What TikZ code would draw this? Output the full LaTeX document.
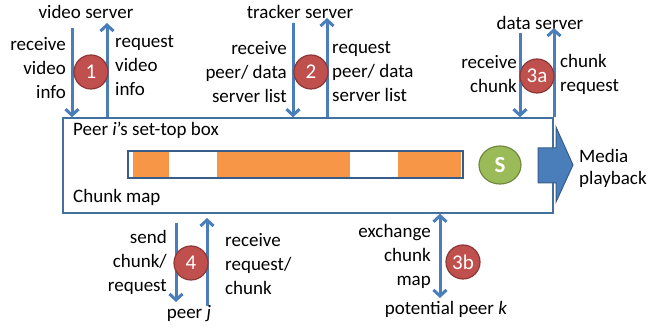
\documentclass[tikz,border=0pt]{standalone}
\usepackage{fontspec}
\setmainfont{Carlito}
\usetikzlibrary{arrows.meta,shapes.geometric}
\definecolor{ablue}{HTML}{4A7EBB}
\definecolor{boxblue}{HTML}{41719C}
\definecolor{barblue}{HTML}{385D8A}
\definecolor{cred}{HTML}{C0504D}
\definecolor{credd}{HTML}{8C3836}
\definecolor{cgreen}{HTML}{9BBB59}
\definecolor{cgreend}{HTML}{71893F}
\definecolor{corange}{HTML}{F79646}
\begin{document}
\begin{tikzpicture}[x=1pt,y=-1pt,
  lbl/.style={font=\fontsize{19}{24}\selectfont, inner sep=0pt},
  flow/.style={draw=ablue, line width=3pt, -{Straight Barb[length=6pt,width=13pt]}},
  flow2/.style={draw=ablue, line width=3pt, {Straight Barb[length=6pt,width=13pt]}-{Straight Barb[length=6pt,width=13pt]}},
  badge/.style={circle, fill=cred, draw=credd, line width=1.2pt, minimum size=34pt, inner sep=0pt, text=white, font=\fontsize{21}{21}\selectfont},
  seg/.style={fill=corange, draw=none},
]
\useasboundingbox (0,0) rectangle (649,328);

% main box
\node[draw=boxblue, line width=1.5pt, minimum width=490pt, minimum height=95pt, inner sep=0pt] (box) at (308,165.5) {};
\node[lbl, anchor=west] (ptitle) at (73,130) {Peer \textit{i}’s set-top box};
\node[lbl, anchor=west] (cmap) at (73,197) {Chunk map};

% chunk bar
\fill[seg] (133,152) rectangle (169,177);
\fill[seg] (217,152) rectangle (350,177);
\fill[seg] (398,152) rectangle (461,177);
\node[draw=barblue, line width=1.5pt, minimum width=335pt, minimum height=27pt, inner sep=0pt] (bar) at (295.5,164.5) {};

% S
\node[ellipse, fill=cgreen, draw=cgreend, line width=1.2pt, minimum width=42pt, minimum height=38pt, inner sep=0pt, text=white, font=\fontsize{23}{23}\selectfont\bfseries] (s) at (500,165) {S};

% media playback block arrow
\filldraw[fill=ablue, draw=barblue, line width=1pt] (538,148) -- (556,148) -- (556,127) -- (573,165) -- (556,202) -- (556,183) -- (538,183) -- cycle;
\node[font=\fontsize{19}{22}\selectfont, inner sep=0pt, align=left, anchor=west] (media) at (579,168) {Media\\playback};

% group 1
\node[lbl] (vs) at (86,12) {video server};
\coordinate (a1d) at (72,28);
\coordinate (a1u) at (107,23);
\draw[flow] (a1d) -- (a1d |- box.north);
\draw[flow] (a1u |- box.north) -- (a1u);
\node[badge] (b1) at (91,72) {1};
\node[lbl, align=right, anchor=east] (l1) at (66,68) {receive\\video\\info};
\node[lbl, align=left, anchor=west] (r1) at (115,66) {request\\video\\info};

% group 2
\node[lbl] (ts) at (300,12) {tracker server};
\coordinate (a2d) at (293,23);
\coordinate (a2u) at (327,18);
\draw[flow] (a2d) -- (a2d |- box.north);
\draw[flow] (a2u |- box.north) -- (a2u);
\node[badge] (b2) at (311,72) {2};
\node[lbl, align=right, anchor=east] (l2) at (287,72) {receive\\peer/ data\\server list};
\node[lbl, align=left, anchor=west] (r2) at (332,72) {request\\peer/ data\\server list};

% group 3a
\node[lbl] (ds) at (540,23) {data server};
\coordinate (a3d) at (520,33);
\coordinate (a3u) at (554,28);
\draw[flow] (a3d) -- (a3d |- box.north);
\draw[flow] (a3u |- box.north) -- (a3u);
\node[badge] (b3a) at (537,76) {3a};
\node[lbl, align=right, anchor=east] (l3) at (517,74) {receive\\chunk};
\node[lbl, align=left, anchor=west] (r3) at (560,74) {chunk\\request};

% group 4
\coordinate (a4d0) at (176,223);
\coordinate (a4d1) at (176,302);
\coordinate (a4u0) at (207,306);
\coordinate (a4u1) at (207,218);
\draw[flow] (a4d0) -- (a4d1);
\draw[flow] (a4u0) -- (a4u1);
\node[badge] (b4) at (191,263) {4};
\node[lbl, align=right, anchor=east] (l4) at (167,262) {send\\chunk/\\request};
\node[lbl, align=left, anchor=west] (r4) at (225,264) {receive\\request/\\chunk};
\node[lbl] (pj) at (189,314) {peer \textit{j}};

% group 3b
\coordinate (a5) at (440,298);
\draw[flow2] (a5 |- box.south) -- (a5);
\node[badge] (b3b) at (463,262) {3b};
\node[lbl, align=right, anchor=east] (l5) at (431,256) {exchange\\chunk\\map};
\node[lbl] (pk) at (446,309) {potential peer \textit{k}};
\end{tikzpicture}
\end{document}
